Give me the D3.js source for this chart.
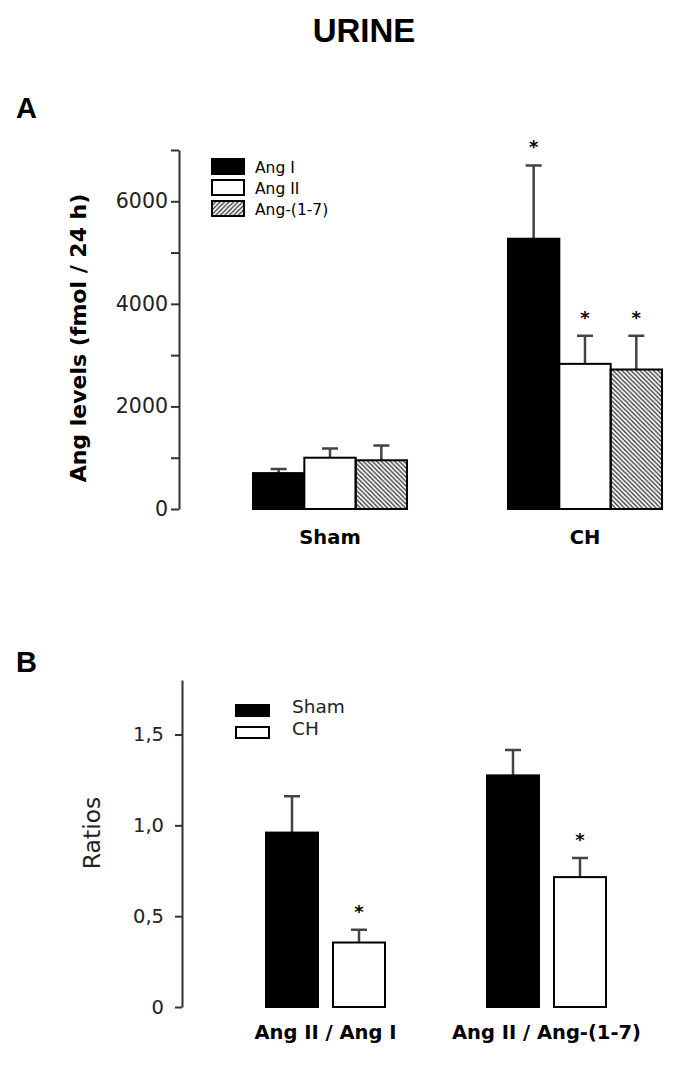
<!DOCTYPE html>
<html>
<head>
<meta charset="utf-8">
<script src="https://cdn.jsdelivr.net/npm/d3@7"></script>
<style>
  body { margin: 0; background: #fff; }
  svg { display: block; }
</style>
</head>
<body>
<div id="chart"></div>
<script>
// panel A: urinary angiotensin levels
var groupsA = ["Sham", "CH"];
var seriesA = ["Ang I", "Ang II", "Ang-(1-7)"];
var meanA = [[700, 1000, 950], [5270, 2830, 2720]];
var semA = [[80, 180, 290], [1430, 550, 660]];
var starA = [[false, false, false], [true, true, true]];
var ticksA = [0, 1000, 2000, 3000, 4000, 5000, 6000, 7000];

// panel B: ratios
var groupsB = ["Ang II / Ang I", "Ang II / Ang-(1-7)"];
var seriesB = ["Sham", "CH"];
var meanB = [[0.96, 0.355], [1.275, 0.715]];
var semB = [[0.20, 0.07], [0.14, 0.105]];
var starB = [[false, true], [false, true]];
var ticksB = [0, 0.5, 1.0, 1.5];
var tickLabelsB = ["0", "0,5", "1,0", "1,5"];

var W = 692, H = 1065;
var svg = d3.select("#chart").append("svg")
    .attr("width", W)
    .attr("height", H);

var defs = svg.append("defs");
// bars use "\" hatching, legend swatch uses "/"
defs.append("pattern")
    .attr("id", "hatchBar")
    .attr("patternUnits", "userSpaceOnUse")
    .attr("width", 4.5).attr("height", 4.5)
    .append("path")
    .attr("d", "M-1,-1 L5.5,5.5 M-1,3.5 L1,5.5 M3.5,-1 L5.5,1")
    .attr("stroke", "#333").attr("stroke-width", 1.3);
defs.append("pattern")
    .attr("id", "hatchLeg")
    .attr("patternUnits", "userSpaceOnUse")
    .attr("width", 4.5).attr("height", 4.5)
    .append("path")
    .attr("d", "M-1,5.5 L5.5,-1 M-1,1 L1,-1 M3.5,5.5 L5.5,3.5")
    .attr("stroke", "#333").attr("stroke-width", 1.3);

var fillA = ["#000", "#fff", "url(#hatchBar)"];
var fillLegA = ["#000", "#fff", "url(#hatchLeg)"];
var fillB = ["#000", "#fff"];

var tickFont = "'DejaVu Sans', sans-serif";
var boldFont = "'DejaVu Sans', sans-serif";

// title and panel letters
svg.append("text")
    .attr("x", 364).attr("y", 42)
    .attr("text-anchor", "middle")
    .style("font-family", "'Liberation Sans', Arial, sans-serif")
    .style("font-weight", "bold")
    .style("font-size", "33px")
    .text("URINE");
svg.append("text")
    .attr("x", 16).attr("y", 118)
    .style("font-family", "'Liberation Sans', Arial, sans-serif")
    .style("font-weight", "bold")
    .style("font-size", "29px")
    .text("A");
svg.append("text")
    .attr("x", 16).attr("y", 672)
    .style("font-family", "'Liberation Sans', Arial, sans-serif")
    .style("font-weight", "bold")
    .style("font-size", "29px")
    .text("B");

function styleAxis(g, size) {
    g.select(".domain").attr("stroke", "#333").attr("stroke-width", 2);
    g.selectAll(".tick line").attr("stroke", "#333").attr("stroke-width", 2);
    g.selectAll(".tick text")
        .attr("fill", "#222")
        .style("font-family", tickFont)
        .style("font-size", size);
}

function drawBars(g, groups, series, mean, sem, stars, x0, x1, y, fills) {
    var grp = g.selectAll(".grp")
        .data(groups)
        .enter().append("g")
        .attr("class", "grp")
        .attr("transform", function(d) { return "translate(" + x0(d) + ",0)"; });
    grp.each(function(gname, gi) {
        var sel = d3.select(this);
        var rows = series.map(function(s, si) {
            return { s: s, si: si, m: mean[gi][si], e: sem[gi][si], star: stars[gi][si] };
        });
        // error bars first so the bar sits on top
        sel.selectAll(".err")
            .data(rows)
            .enter().append("path")
            .attr("class", "err")
            .attr("d", function(d) {
                var cx = x1(d.s) + x1.bandwidth() / 2;
                var top = y(d.m + d.e);
                return "M" + cx + "," + y(d.m) + " V" + top + " M" + (cx - 8) + "," + top + " H" + (cx + 8);
            })
            .attr("fill", "none")
            .attr("stroke", "#444")
            .attr("stroke-width", 2.5);
        sel.selectAll(".bar")
            .data(rows)
            .enter().append("rect")
            .attr("class", "bar")
            .attr("x", function(d) { return x1(d.s); })
            .attr("y", function(d) { return y(d.m); })
            .attr("width", x1.bandwidth())
            .attr("height", function(d) { return y(0) - y(d.m); })
            .attr("fill", function(d) { return fills[d.si]; })
            .attr("stroke", "#000")
            .attr("stroke-width", 2);
        sel.selectAll(".star")
            .data(rows.filter(function(d) { return d.star; }))
            .enter().append("text")
            .attr("class", "star")
            .attr("x", function(d) { return x1(d.s) + x1.bandwidth() / 2; })
            .attr("y", function(d) { return y(d.m + d.e) - 12; })
            .attr("text-anchor", "middle")
            .style("font-family", tickFont)
            .style("font-weight", "bold")
            .style("font-size", "18px")
            .text("*");
    });
    g.selectAll(".glabel")
        .data(groups)
        .enter().append("text")
        .attr("class", "glabel")
        .attr("x", function(d) { return x0(d) + x0.bandwidth() / 2; })
        .attr("text-anchor", "middle")
        .style("font-family", boldFont)
        .style("font-weight", "bold")
        .style("font-size", "19.5px")
        .text(function(d) { return d; });
}

// ---------- panel A ----------
var yA = d3.scaleLinear().domain([0, 7000]).range([509, 150]);
var x0A = d3.scaleBand().domain(groupsA).range([253, 662]).paddingInner(0.396);
var x1A = d3.scaleBand().domain(seriesA).range([0, x0A.bandwidth()]);
var gA = svg.append("g");

gA.append("g")
    .attr("transform", "translate(179,0)")
    .call(d3.axisLeft(yA)
        .tickValues(ticksA)
        .tickSize(8)
        .tickSizeOuter(0)
        .tickPadding(3)
        .tickFormat(function(d) { return d % 2000 === 0 ? d : ""; }))
    .call(styleAxis, "20.5px");

drawBars(gA, groupsA, seriesA, meanA, semA, starA, x0A, x1A, yA, fillA);
gA.selectAll(".glabel").attr("y", 544);

gA.append("text")
    .attr("transform", "translate(86,338) rotate(-90)")
    .attr("text-anchor", "middle")
    .style("font-family", boldFont)
    .style("font-weight", "bold")
    .style("font-size", "22px")
    .text("Ang levels (fmol / 24 h)");

var legA = gA.append("g").attr("transform", "translate(212,159)");
var legRowA = legA.selectAll("g")
    .data(seriesA)
    .enter().append("g")
    .attr("transform", function(d, i) { return "translate(0," + (i * 21) + ")"; });
legRowA.append("rect")
    .attr("width", 32).attr("height", 15)
    .attr("fill", function(d, i) { return fillLegA[i]; })
    .attr("stroke", "#000").attr("stroke-width", 2);
legRowA.append("text")
    .attr("x", 43).attr("y", 14)
    .style("font-family", tickFont)
    .style("font-size", "15.5px")
    .text(function(d) { return d; });

// ---------- panel B ----------
var yB = d3.scaleLinear().domain([0, 1.8]).range([1007, 680]);
var x0B = d3.scaleBand().domain(groupsB).range([266, 606]).paddingInner(0.4615);
var x1B = d3.scaleBand().domain(seriesB).range([0, x0B.bandwidth()]).paddingInner(0.224);
var gB = svg.append("g");

gB.append("g")
    .attr("transform", "translate(182,0)")
    .call(d3.axisLeft(yB)
        .tickValues(ticksB)
        .tickSize(7)
        .tickSizeOuter(0)
        .tickPadding(11)
        .tickFormat(function(d, i) { return tickLabelsB[i]; }))
    .call(styleAxis, "19.5px");

drawBars(gB, groupsB, seriesB, meanB, semB, starB, x0B, x1B, yB, fillB);
gB.selectAll(".glabel").attr("y", 1039);

gB.append("text")
    .attr("transform", "translate(100,833) rotate(-90)")
    .attr("text-anchor", "middle")
    .attr("fill", "#222")
    .style("font-family", tickFont)
    .style("font-size", "23.5px")
    .text("Ratios");

var legB = gB.append("g").attr("transform", "translate(236,705)");
var legRowB = legB.selectAll("g")
    .data(seriesB)
    .enter().append("g")
    .attr("transform", function(d, i) { return "translate(0," + (i * 22) + ")"; });
legRowB.append("rect")
    .attr("width", 33).attr("height", 11)
    .attr("fill", function(d, i) { return fillB[i]; })
    .attr("stroke", "#000").attr("stroke-width", 2);
legRowB.append("text")
    .attr("x", 56).attr("y", 8)
    .attr("fill", "#222")
    .style("font-family", tickFont)
    .style("font-size", "18.5px")
    .text(function(d) { return d; });
</script>
</body>
</html>
